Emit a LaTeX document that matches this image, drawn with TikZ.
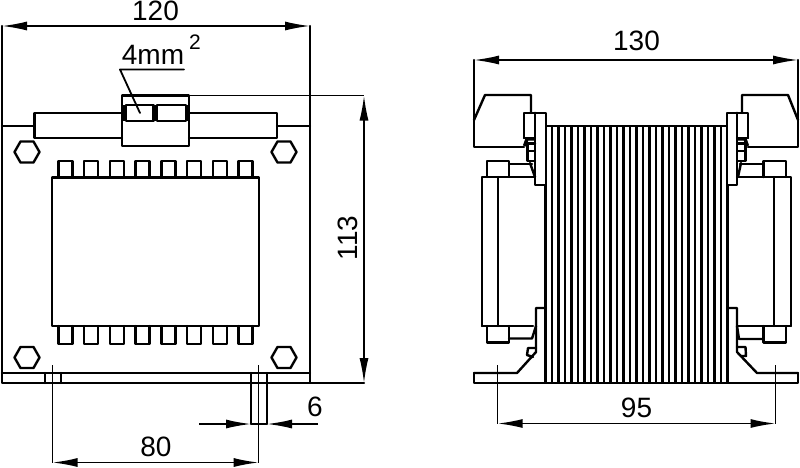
\documentclass[tikz,border=0pt]{standalone}
\usepackage{fontspec}
\setmainfont{Liberation Sans}
\usetikzlibrary{arrows.meta}
\tikzset{
  thk/.style={line width=2.4pt,line join=round,line cap=round},
  thn/.style={line width=1.4pt},
  dim/.style={line width=1.6pt,{Latex[length=25pt,width=9pt]}-{Latex[length=25pt,width=9pt]}},
  dimr/.style={line width=1.6pt,-{Latex[length=25pt,width=9pt]}},
  lab/.style={font=\fontsize{28}{28}\selectfont,inner sep=0pt},
  hex/.pic={\draw[line width=2.4pt,line join=round] (-12.5,0)--(-6.5,-10.5)--(6.5,-10.5)--(12.5,0)--(6.5,10.5)--(-6.5,10.5)--cycle;}
}
\begin{document}
\begin{tikzpicture}[x=1pt,y=-1pt]
\useasboundingbox (0,0) rectangle (800,467);
\fill[white] (0,0) rectangle (800,467);
%%% LEFT VIEW
\draw[thk] (2,26)--(2,383)--(310,383)--(310,26);
\draw[thk] (2,126)--(34.5,126) (277,126)--(310,126);
\draw[thk] (2,373)--(310,373);
\draw[thk] (122,113)--(34.5,113)--(34.5,138)--(122,138);
\draw[thk] (189,113)--(277,113)--(277,138)--(189,138);
\draw[thk] (122,95.5) rectangle (189,146);
\draw[thk] (126,105) rectangle (153.5,121);
\draw[thk] (157,105) rectangle (186,121);
\draw[line width=3pt] (155,105)--(155,121);
\draw[line width=3pt] (123,105)--(123,121) (188,105)--(188,121);
% leader
\draw[thk,line width=1.8pt] (184,69.5)--(120,69.5)--(140,113);
\node[lab,anchor=base] (mm) at (153,64) {4mm};
\node[inner sep=0pt,font=\fontsize{21}{21}\selectfont,anchor=base] (sq) at (195,49) {2};
% hexagons
\pic at (27,152) {hex};
\pic at (284,152) {hex};
\pic at (27,357.5) {hex};
\pic at (284,357.5) {hex};
% core and teeth
\foreach \i in {0,...,7}{
  \pgfmathsetmacro{\xa}{58.5+25.7*\i}
  \draw[thk] (\xa,177.5)--(\xa,161)--(\xa+14,161)--(\xa+14,177.5);
  \draw[thk] (\xa,326)--(\xa,344)--(\xa+14,344)--(\xa+14,326);
}
\draw[thk] (52,177.5) rectangle (259,326);
% slots
\draw[thk] (45,373)--(45,383) (61,373)--(61,383);
\draw[thk] (251,373)--(251,424) (267,373)--(267,424);
\draw[thn] (52.5,365)--(52.5,463) (258.7,365)--(258.7,463);
\draw[thn] (251,424)--(267,424);
\coordinate (a80) at (52.5,462.5);
\coordinate (b80) at (258.7,462.5);
\draw[dim] (a80)--(b80);
\node[lab] (n80) at (156,447) {80};
\coordinate (l6) at (199,424);\coordinate (la6) at (251,424);
\coordinate (r6) at (318,424);\coordinate (ra6) at (267,424);
\draw[dimr] (l6)--(la6);
\draw[dimr] (r6)--(ra6);
\node[lab] (n6) at (315,407) {6};
% 120 dim
\coordinate (a120) at (2,26);\coordinate (b120) at (310,26);
\draw[dim] (a120)--(b120);
\node[lab] (n120) at (155.5,11) {120};
% 113 dim
\draw[thn] (189,95.5)--(364,95.5);
\draw[thk] (310,383)--(364,383);
\coordinate (a113) at (364,95.5);\coordinate (b113) at (364,383);
\draw[dim] (a113)--(b113);
\node[lab,rotate=90] (n113) at (348,238) {113};
%%% RIGHT VIEW
% stack stripes
\foreach \i in {0,...,28}{
  \pgfmathsetmacro{\xs}{545.5+6.5*\i}
  \draw[line width=2.8pt] (\xs,126)--(\xs,383);
}
\draw[thk] (547,126)--(727,126);
% base + left side
\draw[thk] (474,373)--(474,383)--(798,383)--(798,373);
\fill[white] (536,113) rectangle (546,185);
\fill[white] (727.8,113) rectangle (737,185);
% left upper
\draw[thk] (474,60)--(474,146.7)--(524,146.7);
\draw[thk] (474,120)--(485,95)--(531,95)--(531,113);
\draw[thk] (524,138)--(524,112.7)--(546,112.7)--(546,185)--(535,185)--(535,112.7);
\draw[thk] (535,138)--(524,138);
\draw[line width=3.4pt] (524.5,146)--(527,139)--(535,139);
\draw[thk] (527.5,143)--(527.5,161)--(535,161) (527.5,150.7)--(535,150.7);
\draw[thk] (527.5,143.5)--(535,143.5);
\draw[thk] (530,163)--(535,177);
\draw[thk] (487,177)--(487,161)--(509,161)--(509,177);
\draw[thk] (509,164)--(532,164);
\draw[thk] (482,326)--(482,177)--(535,177);
\draw[thk] (498,177)--(498,326);
\draw[thk] (482,326)--(533,326);
\draw[thk] (487,326)--(487,342.5)--(509,342.5)--(509,326);
\draw[thk] (509,338.5)--(532,338.5)--(536,326);
\draw[thk] (546,308)--(536,308)--(536,352)--(517,373)--(474,373);
\draw[thk] (536,348)--(528,348)--(527,355);
\draw[thk] (527,355)--(533,357);
% right upper
\draw[thk] (798,60)--(798,146.7)--(748,146.7);
\draw[thk] (798,120)--(788,95)--(742,95)--(742,113);
\draw[thk] (748,138)--(748,112.7)--(727,112.7)--(727,185)--(737,185)--(737,112.7);
\draw[thk] (737,138)--(748,138);
\draw[line width=3.4pt] (747.5,146)--(745,139)--(737,139);
\draw[thk] (745.5,143)--(745.5,161)--(738,161) (745.5,150.7)--(738,150.7);
\draw[thk] (745.5,143.5)--(738,143.5);
\draw[thk] (741,163)--(738,177);
\draw[thk] (786,177)--(786,161)--(763.5,161)--(763.5,177);
\draw[thk] (763.5,164)--(740,164);
\draw[thk] (790.7,326)--(790.7,177)--(737,177);
\draw[thk] (774,177)--(774,326);
\draw[thk] (790.7,326)--(738,326);
\draw[thk] (786,326)--(786,342.5)--(763.5,342.5)--(763.5,326);
\draw[thk] (763.5,339)--(739,339)--(737,326);
\draw[thk] (727,308)--(737,308)--(737,352)--(757,373)--(798,373);
\draw[thk] (737,347)--(745.5,347)--(746,356)--(741,356);
% dims
\draw[thn] (497.7,365)--(497.7,424) (775.5,365)--(775.5,424);
\coordinate (a95) at (497.7,423.5);\coordinate (b95) at (775.5,423.5);
\draw[dim] (a95)--(b95);
\node[lab] (n95) at (636.5,408) {95};
\coordinate (a130) at (474,60);\coordinate (b130) at (798,60);
\draw[dim] (a130)--(b130);
\node[lab] (n130) at (636.5,41) {130};
\end{tikzpicture}
\end{document}
